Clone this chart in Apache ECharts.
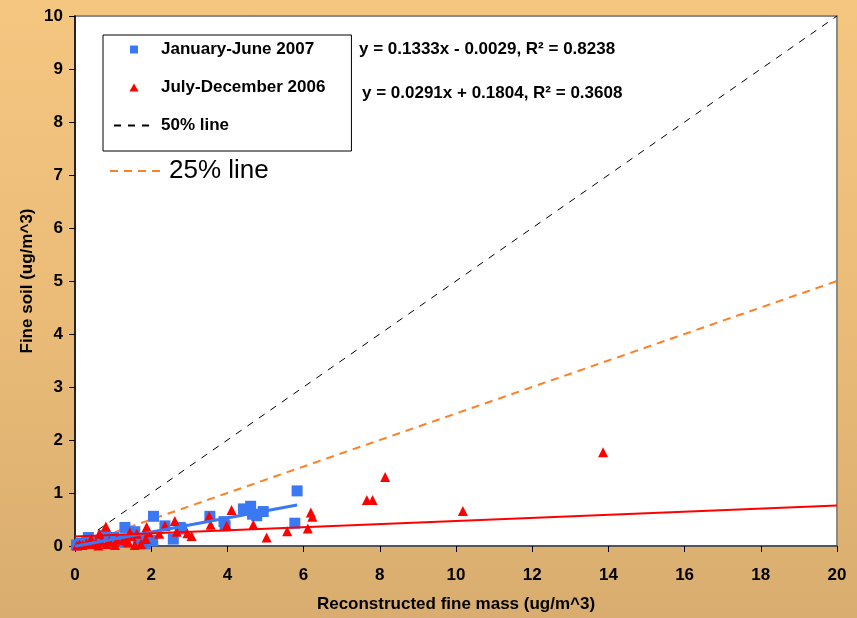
<!DOCTYPE html>
<html>
<head>
<meta charset="utf-8">
<script src="https://cdn.jsdelivr.net/npm/echarts@6/dist/echarts.min.js"></script>
<style>
  html, body { margin: 0; padding: 0; }
  #chart {
    width: 857px; height: 618px;
    background: linear-gradient(to bottom, #F5C680 0%, #EBBC78 50%, #D8AD6F 100%);
  }
</style>
</head>
<body>
<div id="chart"></div>
<script>
// Fine soil vs reconstructed fine mass, two sampling periods
const janJun2007 = [
  [0.04,0.02],[0.15,0.05],[0.31,0.07],[0.35,0.16],[0.57,0.10],[0.61,0.07],
  [0.74,0.19],[0.79,0.19],[0.96,0.13],[1.01,0.16],[1.18,0.13],[1.31,0.35],
  [1.31,0.07],[1.57,0.27],[1.66,0.13],[1.71,0.10],[1.84,0.04],[1.97,0.10],
  [2.04,0.10],[2.06,0.56],[2.36,0.38],[2.58,0.13],[2.76,0.35],[2.80,0.32],
  [3.54,0.56],[3.91,0.46],[3.94,0.38],[4.42,0.70],[4.61,0.75],[4.66,0.60],
  [4.77,0.57],[4.94,0.65],[5.77,0.43],[5.83,1.04]
];
const julDec2006 = [
  [0.05,0.01],[0.12,0.03],[0.20,0.02],[0.30,0.05],[0.42,0.13],[0.44,0.04],
  [0.55,0.06],[0.61,0.01],[0.64,0.23],[0.70,0.08],[0.81,0.37],[0.83,0.04],
  [0.90,0.10],[1.05,0.02],[1.10,0.12],[1.27,0.12],[1.36,0.10],[1.40,0.07],
  [1.44,0.26],[1.49,0.19],[1.57,0.02],[1.62,0.23],[1.73,0.04],[1.86,0.13],
  [1.88,0.36],[1.93,0.26],[2.21,0.23],[2.36,0.38],[2.62,0.47],[2.67,0.27],
  [2.95,0.24],[3.06,0.19],[3.52,0.56],[3.56,0.40],[3.98,0.38],[4.11,0.68],
  [4.68,0.40],[5.03,0.16],[5.57,0.28],[6.11,0.33],[6.19,0.63],[6.23,0.55],
  [7.66,0.87],[7.81,0.87],[8.14,1.30],[10.18,0.66],[13.86,1.77]
];

// Linear fits (slope, intercept) and the x-range each fit line covers
const fitJanJun = { slope: 0.1333, intercept: -0.0029, r2: 0.8238, xRange: [0, 5.83] };
const fitJulDec = { slope: 0.0291, intercept: 0.1804, r2: 0.3608, xRange: [0, 20] };

// Reference ratio lines
const line50 = [[0, 0], [20, 10]];
const line25 = [[0, 0], [20, 5]];

const xTicks = { min: 0, max: 20, interval: 2 };
const yTicks = { min: 0, max: 10, interval: 1 };

function fitPoints(f) {
  return f.xRange.map(x => [x, f.slope * x + f.intercept]);
}
function fitLabel(f) {
  const sign = f.intercept < 0 ? '-' : '+';
  return 'y = ' + f.slope.toFixed(4) + 'x ' + sign + ' ' + Math.abs(f.intercept).toFixed(4) +
         ', R² = ' + f.r2.toFixed(4);
}

const BLUE = '#3B78F4';
const RED = '#FF0000';
const ORANGE = '#FF7F24';
const FONT = '"Liberation Sans", Arial, sans-serif';

// Legend icons kept square / small by using path icons with kept aspect
const ICON_SQUARE = 'path://M0,0L10,0L10,10L0,10Z';
const ICON_TRIANGLE = 'path://M4,0L8,7L0,7Z';

const chart = echarts.init(document.getElementById('chart'), null, { renderer: 'canvas' });

chart.setOption({
  backgroundColor: 'transparent',
  animation: false,
  grid: {
    left: 75, right: 20, top: 16, bottom: 71,
    show: true, backgroundColor: '#ffffff', borderColor: '#8a8a8a', borderWidth: 2
  },
  xAxis: {
    type: 'value', min: xTicks.min, max: xTicks.max, interval: xTicks.interval,
    name: 'Reconstructed fine mass (ug/m^3)', nameLocation: 'middle', nameGap: 50,
    nameTextStyle: { fontFamily: FONT, fontWeight: 'bold', fontSize: 17, color: '#000' },
    axisLine: { onZero: false, lineStyle: { color: '#444', width: 1.5 } },
    axisTick: { show: true, inside: false, length: 6, lineStyle: { color: '#000' } },
    axisLabel: { margin: 21, fontFamily: FONT, fontWeight: 'bold', fontSize: 17, color: '#000' },
    splitLine: { show: false }
  },
  yAxis: {
    type: 'value', min: yTicks.min, max: yTicks.max, interval: yTicks.interval,
    name: 'Fine soil (ug/m^3)', nameLocation: 'middle', nameGap: 39, nameRotate: 90,
    nameMoveOverlap: false,
    nameTextStyle: { fontFamily: FONT, fontWeight: 'bold', fontSize: 17, color: '#000' },
    axisLine: { onZero: false, lineStyle: { color: '#000', width: 1.5 } },
    axisTick: { show: true, inside: false, length: 6, lineStyle: { color: '#000' } },
    axisLabel: { margin: 12, fontFamily: FONT, fontWeight: 'bold', fontSize: 17, color: '#000' },
    splitLine: { show: false }
  },
  legend: [
    {
      data: [
        { name: 'January-June 2007', icon: ICON_SQUARE },
        { name: 'July-December 2006', icon: ICON_TRIANGLE },
        { name: '50% line', itemStyle: { color: 'rgba(0,0,0,0)', borderWidth: 0 } }
      ],
      orient: 'vertical', left: 103, top: 35,
      padding: [6, 26, 17, 10],
      itemWidth: 40, itemHeight: 8, itemGap: 21,
      symbolKeepAspect: true,
      backgroundColor: '#ffffff', borderColor: '#000', borderWidth: 1,
      textStyle: { fontFamily: FONT, fontWeight: 'bold', fontSize: 17, color: '#000', padding: [0, 0, 0, 2] }
    },
    {
      data: [{ name: '25% line', itemStyle: { color: 'rgba(0,0,0,0)', borderWidth: 0 } }],
      left: 109, top: 158, padding: 0,
      itemWidth: 52, itemHeight: 10,
      textStyle: { fontFamily: FONT, fontSize: 26, color: '#000', padding: [0, 0, 0, 2] }
    }
  ],
  graphic: [
    {
      type: 'text', left: 359, top: 41,
      style: { text: fitLabel(fitJanJun), font: 'bold 17px ' + FONT, fill: '#000' }
    },
    {
      type: 'text', left: 362, top: 85,
      style: { text: fitLabel(fitJulDec), font: 'bold 17px ' + FONT, fill: '#000' }
    }
  ],
  series: [
    {
      name: '50% line', type: 'line', data: line50, showSymbol: false, symbol: 'none',
      lineStyle: { color: '#000', width: 1, type: [7, 7] }, z: 1
    },
    {
      name: '25% line', type: 'line', data: line25, showSymbol: false, symbol: 'none',
      lineStyle: { color: ORANGE, width: 2, type: [8, 6] }, z: 1
    },
    {
      name: 'July-December 2006', type: 'scatter', data: julDec2006,
      symbol: 'triangle', symbolSize: 10, itemStyle: { color: RED, opacity: 1 }, z: 3
    },
    {
      name: 'January-June 2007', type: 'scatter', data: janJun2007,
      symbol: 'rect', symbolSize: 11, itemStyle: { color: BLUE, opacity: 1 }, z: 2
    },
    {
      name: 'fit Jan-Jun', type: 'line', data: fitPoints(fitJanJun), showSymbol: false, symbol: 'none',
      lineStyle: { color: BLUE, width: 3 }, z: 4
    },
    {
      name: 'fit Jul-Dec', type: 'line', data: fitPoints(fitJulDec), showSymbol: false, symbol: 'none',
      lineStyle: { color: RED, width: 2 }, z: 4
    }
  ]
});
</script>
</body>
</html>
